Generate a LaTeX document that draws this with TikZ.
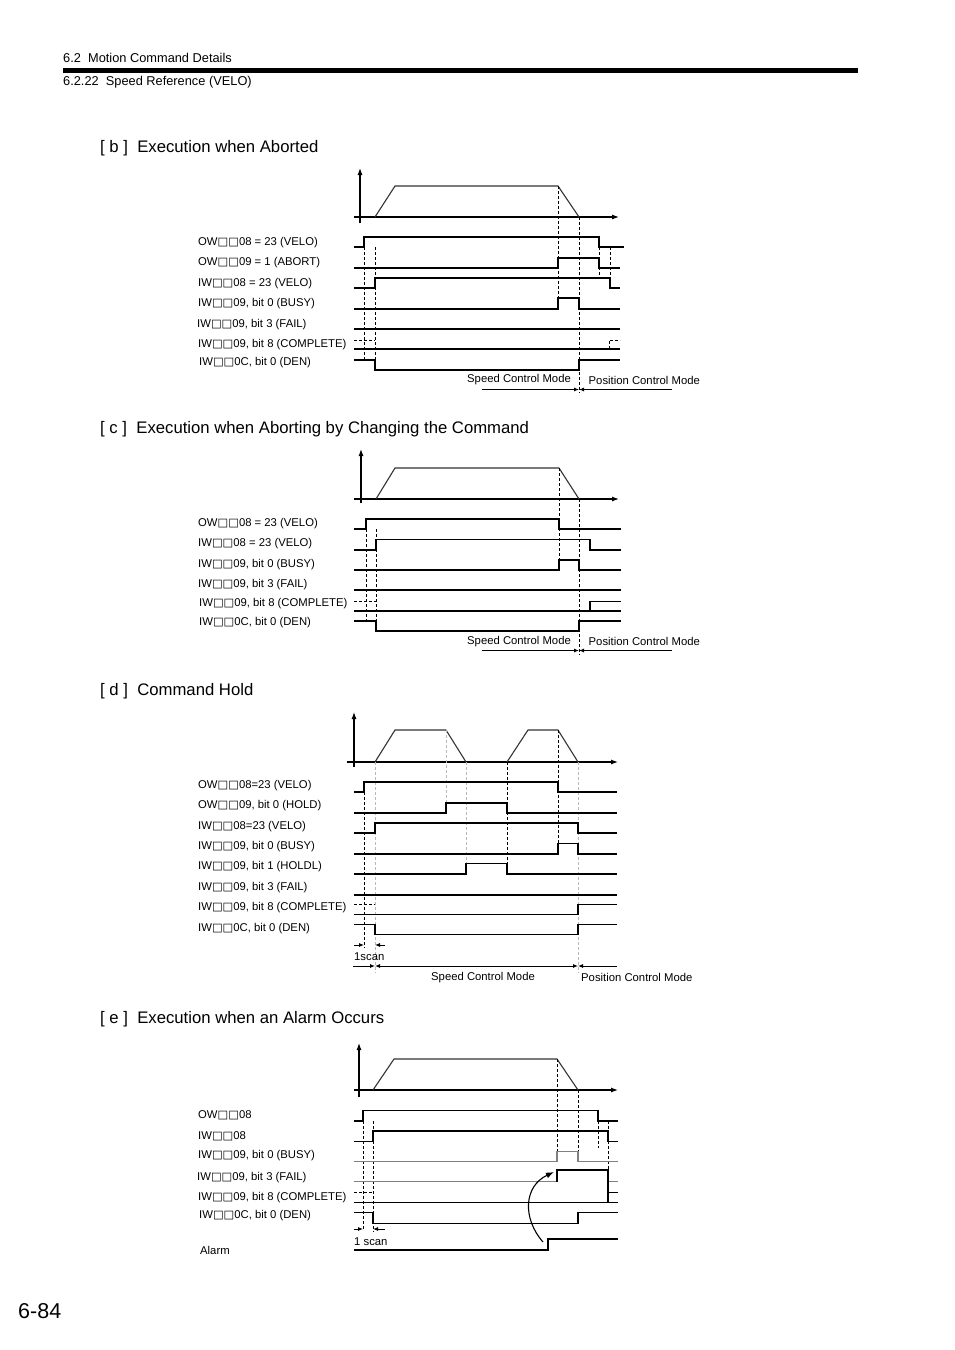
\documentclass[tikz,border=0pt]{standalone}
\usepackage{fontspec}
\setmainfont{Liberation Sans}
\newfontfamily\dvs{DejaVu Sans}
\usetikzlibrary{arrows.meta}
\newcommand\bx{{\dvs □}}
\newcommand\lblfnt{\fontsize{11.3}{13}\selectfont}
\newcommand\ttlfnt{\fontsize{16.7}{19}\selectfont}
\newcommand\hdfnt{\fontsize{12.8}{14}\selectfont}
\newcommand\pgfnt{\fontsize{21.5}{24}\selectfont}
\begin{document}
\begin{tikzpicture}[x=1pt,y=-1pt,
  sig/.style={line width=1.1pt},
  gsig/.style={line width=1.4pt, draw=black!50},
  trap/.style={line width=1.1pt, draw=black!80},
  ax/.style={line width=1.1pt,-{Latex[length=7pt,width=5pt]}},
  dsh/.style={line width=0.8pt, dash pattern=on 3pt off 2pt},
  gdsh/.style={dsh, draw=gray!55},
  lbl/.style={anchor=west, inner sep=0pt, font=\lblfnt, yshift=-1.5pt},
  ttl/.style={anchor=west, inner sep=0pt, font=\ttlfnt, yshift=-2pt},
  marr/.style={line width=0.9pt, -{Latex[length=5pt,width=4pt]}},
  marrb/.style={line width=0.9pt, {Latex[length=5pt,width=4pt]}-{Latex[length=5pt,width=4pt]}}
]
\useasboundingbox[fill=white] (0,0) rectangle (954,1350);
% header
\node[anchor=west, inner sep=0pt, font=\hdfnt, yshift=-0.5pt] (h1) at (63,57.5) {6.2\ \ Motion Command Details};
\draw[line width=5pt] (63,70.5) -- (858,70.5);
\node[anchor=west, inner sep=0pt, font=\hdfnt, yshift=-1.2pt] (h2) at (63,80.5) {6.2.22\ \ Speed Reference (VELO)};
\node[anchor=west, inner sep=0pt, font=\pgfnt] (pg) at (18,1311) {6-84};

% ================= [b] =================
\node[ttl] (tb) at (100,146.5) {[ b ]\ \ Execution when Aborted};
\draw[ax] (360,223) -- (360,168);
\draw[ax] (354,217) -- (619,217);
\draw[trap] (375,217) -- (395,186) -- (558,186) -- (579,217);
\draw[dsh] (364,247) -- (364,360);
\draw[dsh] (375,247) -- (375,370);
\draw[dsh] (558,186) -- (558,298);
\draw[dsh] (579,217) -- (579,393);
\draw[dsh] (599,247) -- (599,278);
\draw[dsh] (610,247) -- (610,288);
\draw[sig] (354,247) -| (364,237) -| (599,247) -- (624,247);
\draw[sig] (354,268) -| (558,258) -| (599,268) -- (620,268);
\draw[sig] (354,288) -| (375,278) -| (610,288) -- (620,288);
\draw[sig] (354,309) -| (558,298) -| (579,309) -- (620,309);
\draw[sig] (354,329) -- (620,329);
\draw[sig] (354,349) -- (620,349);
\draw[dsh] (354,340) -- (375,340);
\draw[dsh] (609,349) |- (620,340);
\draw[sig] (354,360) -| (375,370) -| (579,360) -- (620,360);
\coordinate (bm) at (579,389.5);
\draw[marr] (482,389.5) -- (bm);
\draw[marr] (672,389.5) -- (bm);
\node[lbl] (bs) at (467,378.5) {Speed Control Mode};
\node[lbl] (bp) at (588.5,378.5) {Position Control Mode};
\node[lbl] (b1) at (198,241.5) {OW\bx\bx08 = 23 (VELO)};
\node[lbl] (b2) at (198,261) {OW\bx\bx09 = 1 (ABORT)};
\node[lbl] (b3) at (198,282) {IW\bx\bx08 = 23 (VELO)};
\node[lbl] (b4) at (198,302.5) {IW\bx\bx09, bit 0 (BUSY)};
\node[lbl] (b5) at (197,323) {IW\bx\bx09, bit 3 (FAIL)};
\node[lbl] (b6) at (198,343) {IW\bx\bx09, bit 8 (COMPLETE)};
\node[lbl] (b7) at (199,361) {IW\bx\bx0C, bit 0 (DEN)};

% ================= [c] =================
\node[ttl] (tc) at (100,427.5) {[ c ]\ \ Execution when Aborting by Changing the Command};
\draw[ax] (361,503) -- (361,449);
\draw[ax] (354,499) -- (619,499);
\draw[trap] (376,499) -- (395,468) -- (559,468) -- (579,499);
\draw[dsh] (366,529) -- (366,621);
\draw[dsh] (376,529) -- (376,631);
\draw[dsh] (559,468) -- (559,560);
\draw[dsh] (579,499) -- (579,655);
\draw[sig] (354,529) -| (366,519) -| (559,529) -- (621,529);
\draw[sig] (354,550) -| (376,539.5) -| (590,550) -- (621,550);
\draw[sig] (354,570) -| (559,560) -| (579,570) -- (621,570);
\draw[sig] (354,590) -- (621,590);
\draw[sig] (354,611) -- (621,611);
\draw[sig] (590,611) |- (621,601.5);
\draw[dsh] (354,601.5) -- (376,601.5);
\draw[sig] (354,621) -| (376,631) -| (579,621) -- (621,621);
\coordinate (cm) at (579,650.5);
\draw[marr] (482,650.5) -- (cm);
\draw[marr] (672,650.5) -- (cm);
\node[lbl] (cs) at (467,640) {Speed Control Mode};
\node[lbl] (cp) at (588.5,640) {Position Control Mode};
\node[lbl] (c1) at (198,522) {OW\bx\bx08 = 23 (VELO)};
\node[lbl] (c2) at (198,542) {IW\bx\bx08 = 23 (VELO)};
\node[lbl] (c3) at (198,563) {IW\bx\bx09, bit 0 (BUSY)};
\node[lbl] (c4) at (198,583) {IW\bx\bx09, bit 3 (FAIL)};
\node[lbl] (c5) at (199,602) {IW\bx\bx09, bit 8 (COMPLETE)};
\node[lbl] (c6) at (199,621.5) {IW\bx\bx0C, bit 0 (DEN)};

% ================= [d] =================
\node[ttl] (td) at (100,689.5) {[ d ]\ \ Command Hold};
\draw[ax] (354,767) -- (354,712);
\draw[ax] (347,762) -- (618,762);
\draw[trap] (375,762) -- (395,730) -- (446,730) -- (466,762);
\draw[trap] (507,762) -- (528,730) -- (558,730) -- (578,762);
\draw[dsh] (364,792) -- (364,948);
\draw[dsh] (507,762) -- (507,874);
\draw[dsh] (558,730) -- (558,843.5);
\draw[gdsh] (375,762) -- (375,973);
\draw[gdsh] (446,730) -- (446,803);
\draw[gdsh] (466,762) -- (466,863.5);
\draw[gdsh] (578,762) -- (578,973);
\draw[sig] (354,792) -| (364,782) -| (558,792) -- (617,792);
\draw[sig] (354,813) -| (446,803) -| (507,813) -- (617,813);
\draw[sig] (354,833) -| (375,823) -| (578,833) -- (617,833);
\draw[sig] (354,854) -| (558,843.5) -| (578,854) -- (617,854);
\draw[sig] (354,874) -| (466,863.5) -| (507,874) -- (617,874);
\draw[sig] (354,895) -- (617,895);
\draw[sig] (354,914.5) -| (578,904.5) -- (617,904.5);
\draw[dsh] (354,904.5) -- (375,904.5);
\draw[sig] (354,924.5) -| (375,934.5) -| (578,924.5) -- (617,924.5);
\coordinate (d1a) at (364,945);
\coordinate (d1b) at (375,945);
\draw[marr] (354,945) -- (d1a);
\draw[marr] (385,945) -- (d1b);
\node[lbl] (dsc) at (354,955) {1scan};
\coordinate (dma) at (375,966);
\coordinate (dmb) at (578,966);
\draw[marr] (353,966) -- (dma);
\draw[marrb] (dma) -- (dmb);
\draw[marr] (617,966) -- (dmb);
\node[lbl] (ds) at (431,976) {Speed Control Mode};
\node[lbl] (dp) at (581,976) {Position Control Mode};
\node[lbl] (d1) at (198,784.5) {OW\bx\bx08=23 (VELO)};
\node[lbl] (d2) at (198,804.5) {OW\bx\bx09, bit 0 (HOLD)};
\node[lbl] (d3) at (198,825.5) {IW\bx\bx08=23 (VELO)};
\node[lbl] (d4) at (198,845.5) {IW\bx\bx09, bit 0 (BUSY)};
\node[lbl] (d5) at (198,865.5) {IW\bx\bx09, bit 1 (HOLDL)};
\node[lbl] (d6) at (198,886.5) {IW\bx\bx09, bit 3 (FAIL)};
\node[lbl] (d7) at (198,906.5) {IW\bx\bx09, bit 8 (COMPLETE)};
\node[lbl] (d8) at (198,927.5) {IW\bx\bx0C, bit 0 (DEN)};

% ================= [e] =================
\node[ttl] (te) at (100,1017.5) {[ e ]\ \ Execution when an Alarm Occurs};
\draw[ax] (359,1097) -- (359,1043);
\draw[ax] (354,1090) -- (618,1090);
\draw[trap] (373,1090) -- (394,1059) -- (557,1059) -- (578,1090);
\draw[dsh] (363,1121) -- (363,1229);
\draw[dsh] (373,1121) -- (373,1232);
\draw[dsh] (557,1059) -- (557,1151.5);
\draw[dsh] (578,1090) -- (578,1151.5);
\draw[dsh] (598,1121) -- (598,1148);
\draw[dsh] (608,1121) -- (608,1170);
\draw[sig] (354,1121) -| (363,1110.5) -| (598,1121) -- (618,1121);
\draw[sig] (354,1141.5) -| (373,1131) -| (608,1141.5) -- (618,1141.5);
\draw[gsig] (354,1161.5) -| (557,1151.5) -| (578,1161.5) -- (618,1161.5);
\draw[gsig] (354,1181.5) -- (557,1181.5);
\draw[gsig] (608,1181.5) -- (618,1181.5);
\draw[sig] (557,1181.5) |- (608,1170) -- (608,1202.3);
\draw[sig] (608,1192.3) -- (618,1192.3);
\draw[sig] (354,1202.3) -- (618,1202.3);
\draw[dsh] (354,1192.3) -- (373,1192.3);
\draw[sig] (354,1212.3) -| (373,1223.3) -| (578,1212.3) -- (618,1212.3);
\draw[sig] (354,1250) -| (548,1239) -- (618,1239);
\coordinate (e1a) at (363,1229);
\coordinate (e1b) at (373,1229);
\draw[marr] (354,1229) -- (e1a);
\draw[marr] (385,1229) -- (e1b);
\node[lbl] (esc) at (354,1240) {1 scan};
\coordinate (ea0) at (543,1242);
\coordinate (ea1) at (554,1172);
\draw[line width=1.1pt, -{Latex[length=8pt,width=6pt]}] (ea0) .. controls (522,1218) and (524,1186) .. (ea1);
\node[lbl] (e1) at (198,1114) {OW\bx\bx08};
\node[lbl] (e2) at (198,1135) {IW\bx\bx08};
\node[lbl] (e3) at (198,1154) {IW\bx\bx09, bit 0 (BUSY)};
\node[lbl] (e4) at (197,1176) {IW\bx\bx09, bit 3 (FAIL)};
\node[lbl] (e5) at (198,1196) {IW\bx\bx09, bit 8 (COMPLETE)};
\node[lbl] (e6) at (199,1214) {IW\bx\bx0C, bit 0 (DEN)};
\node[lbl] (e7) at (200,1248.5) {Alarm};
\end{tikzpicture}
\end{document}
